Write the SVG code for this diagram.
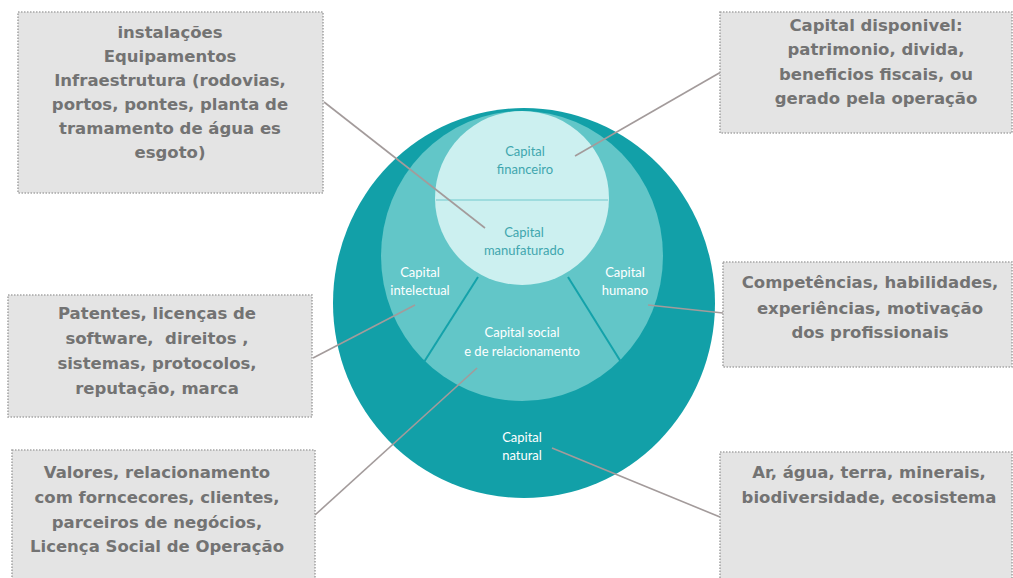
<svg xmlns="http://www.w3.org/2000/svg" width="1013" height="578" viewBox="0 0 1013 578">
<style>
.box{fill:#e4e4e4;stroke:#a6a6a6;stroke-width:1.6;stroke-dasharray:1.5 1.5}
.bt{font-family:"DejaVu Sans",sans-serif;font-weight:bold;font-size:16.5px;fill:#737373;text-anchor:middle;white-space:pre}
.ct{font-family:"Lato","Liberation Sans",sans-serif;font-size:13px;text-anchor:middle}
.w{fill:#ffffff}
.tl{fill:#3fa6ae}
.con{stroke:#a39b9b;stroke-width:1.6;fill:none}
</style>
<rect width="1013" height="578" fill="#ffffff"/>
<g id="circle">
<ellipse cx="524" cy="303" rx="191" ry="195" fill="#12a0a8"/>
<ellipse cx="522" cy="256" rx="141" ry="145" fill="#62c6c8"/>
<line x1="478" y1="277" x2="424" y2="362" stroke="#14a2aa" stroke-width="2"/>
<line x1="568" y1="277" x2="621" y2="362" stroke="#14a2aa" stroke-width="2"/>
<circle cx="522" cy="198" r="87" fill="#ccf0f0"/>
<line x1="436" y1="200" x2="608" y2="200" stroke="#8fd6d8" stroke-width="1.5"/>
</g>
<g id="n-financeiro"><text class="ct tl" x="525" y="156">Capital</text><text class="ct tl" x="525" y="174">financeiro</text></g>
<g id="n-manufaturado"><text class="ct tl" x="524" y="237">Capital</text><text class="ct tl" x="524" y="255">manufaturado</text></g>
<g id="n-intelectual"><text class="ct w" x="420" y="277">Capital</text><text class="ct w" x="420" y="295">intelectual</text></g>
<g id="n-humano"><text class="ct w" x="625" y="277">Capital</text><text class="ct w" x="625" y="295">humano</text></g>
<g id="n-social"><text class="ct w" x="522" y="337">Capital social</text><text class="ct w" x="522" y="356">e de relacionamento</text></g>
<g id="n-natural"><text class="ct w" x="522" y="442">Capital</text><text class="ct w" x="522" y="460">natural</text></g>
<g id="connectors">
<line class="con" x1="324" y1="102" x2="485" y2="228"/>
<line class="con" x1="721" y1="72" x2="575" y2="156"/>
<line class="con" x1="313" y1="358" x2="415" y2="305"/>
<line class="con" x1="648" y1="305" x2="723" y2="313"/>
<line class="con" x1="315" y1="515" x2="477" y2="368"/>
<line class="con" x1="552" y1="448" x2="720" y2="517"/>
</g>
<g id="b-manufaturado">
<rect class="box" x="18" y="12" width="305" height="181"/>
<text class="bt" x="170" y="38">instalações</text>
<text class="bt" x="170" y="62">Equipamentos</text>
<text class="bt" x="170" y="86">Infraestrutura (rodovias,</text>
<text class="bt" x="170" y="110">portos, pontes, planta de</text>
<text class="bt" x="170" y="134">tramamento de água es</text>
<text class="bt" x="170" y="158">esgoto)</text>
</g>
<g id="b-financeiro">
<rect class="box" x="720" y="12" width="292" height="121"/>
<text class="bt" x="876" y="31">Capital disponivel:</text>
<text class="bt" x="876" y="55">patrimonio, divida,</text>
<text class="bt" x="876" y="80">beneficios fiscais, ou</text>
<text class="bt" x="876" y="104">gerado pela operação</text>
</g>
<g id="b-intelectual">
<rect class="box" x="8" y="295" width="304" height="122"/>
<text class="bt" x="157" y="319">Patentes, licenças de</text>
<text class="bt" x="157" y="344" xml:space="preserve">software,  direitos ,</text>
<text class="bt" x="157" y="369">sistemas, protocolos,</text>
<text class="bt" x="157" y="394">reputação, marca</text>
</g>
<g id="b-humano">
<rect class="box" x="723" y="262" width="289" height="105"/>
<text class="bt" x="870" y="288">Competências, habilidades,</text>
<text class="bt" x="870" y="314">experiências, motivação</text>
<text class="bt" x="870" y="338">dos profissionais</text>
</g>
<g id="b-social">
<rect class="box" x="12" y="450" width="303" height="140"/>
<text class="bt" x="157" y="478">Valores, relacionamento</text>
<text class="bt" x="157" y="503">com forncecores, clientes,</text>
<text class="bt" x="157" y="528">parceiros de negócios,</text>
<text class="bt" x="157" y="552">Licença Social de Operação</text>
</g>
<g id="b-natural">
<rect class="box" x="720" y="452" width="292" height="140"/>
<text class="bt" x="869" y="478">Ar, água, terra, minerais,</text>
<text class="bt" x="869" y="503">biodiversidade, ecosistema</text>
</g>
</svg>
